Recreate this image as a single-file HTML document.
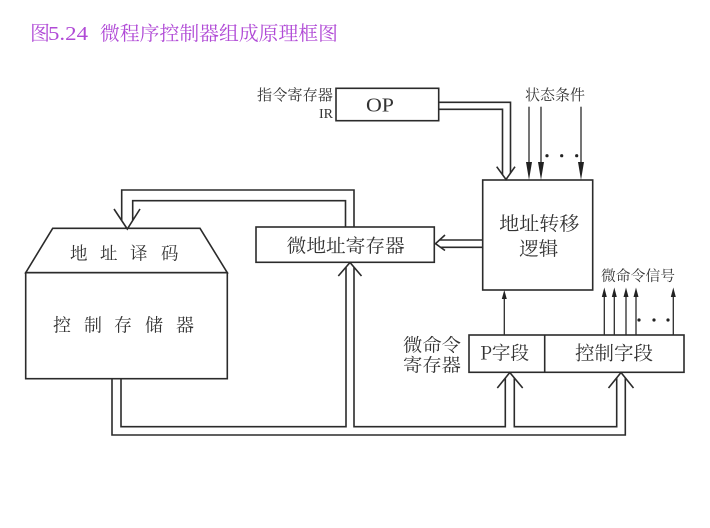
<!DOCTYPE html>
<html>
<head>
<meta charset="utf-8">
<style>
html,body{margin:0;padding:0;background:#fff;}
svg{display:block;}
text{font-family:"Noto Serif CJK SC","Liberation Serif",serif;fill:#333;}
.lat{font-family:"Liberation Serif","Noto Serif CJK SC",serif;}
</style>
</head>
<body>
<svg width="710" height="528" viewBox="0 0 710 528" xmlns="http://www.w3.org/2000/svg">
<!-- title -->
<g style="fill:#b04ad6">
<text x="30" y="40" font-size="20" style="fill:#b04ad6">图</text>
<text class="lat" x="48" y="40" font-size="20" textLength="40" lengthAdjust="spacingAndGlyphs" style="fill:#b04ad6">5.24</text>
<text x="100" y="40" font-size="19.5" textLength="238" lengthAdjust="spacingAndGlyphs" style="fill:#b04ad6">微程序控制器组成原理框图</text>
</g>

<g fill="none" stroke="#2b2b2b" stroke-width="1.6">
<!-- boxes -->
<polygon points="52.7,228.3 200,228.3 227.3,272.7 25.7,272.7"/>
<rect x="25.7" y="272.7" width="201.6" height="106"/>
<rect x="256" y="227" width="178.3" height="35.3"/>
<rect x="336" y="88.3" width="102.7" height="32.4"/>
<rect x="482.7" y="180" width="110" height="110"/>
<rect x="469" y="335" width="215" height="37.3"/>
<line x1="544.7" y1="335" x2="544.7" y2="372.3"/>

<!-- feedback top double line -->
<path d="M354,227 V190 H121.7 V220.5"/>
<path d="M345.5,227 V200.7 H132.7 V220.5"/>
<path d="M114,209 L127.3,229 L140,209"/>

<!-- OP double line -->
<path d="M438.7,102.3 H510.5 V173.1"/>
<path d="M438.7,109.3 H502.5 V174.7"/>
<path d="M496.7,166.7 L506,179.5 L515,166.7"/>

<!-- transfer -> micro address register -->
<path d="M482.7,240 H439.8"/>
<path d="M482.7,247.3 H441.1"/>
<path d="M445,235 L435.5,243.7 L445,250.5"/>

<!-- bottom routing -->
<path d="M112,378.7 V435 H625.3 V378"/>
<path d="M121,378.7 V426.7 H346 V267.2"/>
<path d="M354,267.2 V426.7 H505.3 V378"/>
<path d="M514.3,378 V426.7 H616.7 V378"/>
<!-- hollow arrow heads -->
<path d="M338.3,276 L350,262.5 L361.5,276"/>
<path d="M497.3,388 L509.8,372.5 L522.7,388"/>
<path d="M608.5,388 L621,372.5 L633.5,388"/>
</g>

<g stroke="#2b2b2b" stroke-width="1.3" fill="none">
<!-- status arrows -->
<line x1="529" y1="106.7" x2="529" y2="165"/>
<line x1="541" y1="106.7" x2="541" y2="165"/>
<line x1="581" y1="106.7" x2="581" y2="165"/>
<!-- P -> logic -->
<line x1="504.3" y1="335" x2="504.3" y2="298"/>
<!-- micro signals -->
<line x1="604.3" y1="335" x2="604.3" y2="295"/>
<line x1="614.3" y1="335" x2="614.3" y2="295"/>
<line x1="626" y1="335" x2="626" y2="295"/>
<line x1="636" y1="335" x2="636" y2="295"/>
<line x1="673.3" y1="335" x2="673.3" y2="295"/>
</g>
<g fill="#222">
<polygon points="526,162 532,162 529,180"/>
<polygon points="538,162 544,162 541,180"/>
<polygon points="578,162 584,162 581,180"/>
<polygon points="501.8,299 506.8,299 504.3,290"/>
<polygon points="601.8,297 606.8,297 604.3,287.5"/>
<polygon points="611.8,297 616.8,297 614.3,287.5"/>
<polygon points="623.5,297 628.5,297 626,287.5"/>
<polygon points="633.5,297 638.5,297 636,287.5"/>
<polygon points="670.8,297 675.8,297 673.3,287.5"/>
<circle cx="547" cy="155.7" r="1.6"/>
<circle cx="561.7" cy="155.7" r="1.6"/>
<circle cx="576.7" cy="155.7" r="1.6"/>
<circle cx="639" cy="320" r="1.6"/>
<circle cx="654" cy="320" r="1.6"/>
<circle cx="668" cy="320" r="1.6"/>
</g>

<!-- labels -->
<text x="257" y="100" font-size="15" textLength="76" lengthAdjust="spacingAndGlyphs">指令寄存器</text>
<text class="lat" x="333" y="118" font-size="14" text-anchor="end">IR</text>
<text class="lat" x="366" y="111.7" font-size="20" textLength="28" lengthAdjust="spacingAndGlyphs">OP</text>
<text x="525" y="100" font-size="15" textLength="60" lengthAdjust="spacingAndGlyphs">状态条件</text>

<text x="499.3" y="230" font-size="19" textLength="80" lengthAdjust="spacingAndGlyphs">地址转移</text>
<text x="519.3" y="255" font-size="19" textLength="39" lengthAdjust="spacingAndGlyphs">逻辑</text>

<text x="286.7" y="252.5" font-size="18.5" textLength="118" lengthAdjust="spacingAndGlyphs">微地址寄存器</text>

<text x="70" y="259.5" font-size="17.5">地</text>
<text x="100" y="259.5" font-size="17.5">址</text>
<text x="130" y="259.5" font-size="17.5">译</text>
<text x="161" y="259.5" font-size="17.5">码</text>

<text x="53" y="331.5" font-size="18">控</text>
<text x="84" y="331.5" font-size="18">制</text>
<text x="114" y="331.5" font-size="18">存</text>
<text x="145" y="331.5" font-size="18">储</text>
<text x="176" y="331.5" font-size="18">器</text>

<text x="403" y="351.5" font-size="18" textLength="58" lengthAdjust="spacingAndGlyphs">微命令</text>
<text x="403" y="371.5" font-size="18" textLength="58" lengthAdjust="spacingAndGlyphs">寄存器</text>

<text x="480" y="359.5" font-size="18.5" textLength="49" lengthAdjust="spacingAndGlyphs">P字段</text>
<text x="575" y="359.5" font-size="19" textLength="78" lengthAdjust="spacingAndGlyphs">控制字段</text>

<text x="601" y="281" font-size="14.5" textLength="74" lengthAdjust="spacingAndGlyphs">微命令信号</text>
</svg>
</body>
</html>
